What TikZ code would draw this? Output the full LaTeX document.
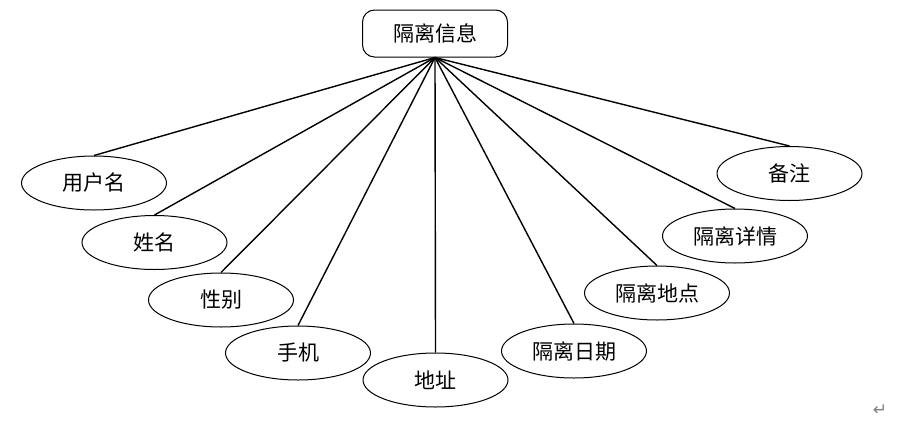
\documentclass[tikz,border=0pt]{standalone}
\usepackage{fontspec}
\setmainfont{Noto Sans CJK SC}
\newfontfamily\symfont{DejaVu Sans}
\usetikzlibrary{shapes.geometric}

\begin{document}
\begin{tikzpicture}[x=1pt,y=-1pt,
        attr/.style={draw=black,ellipse,line width=1pt,minimum width=145pt,minimum height=54pt,inner sep=0pt,font=\fontsize{21}{21}\selectfont}]
        \useasboundingbox (0,0) rectangle (899,423);

        \node[draw=black,rounded corners=12pt,line width=1pt,minimum width=145pt,minimum height=47pt,font=\fontsize{21}{21}\selectfont] (info) at (435,33.5) {隔离信息} ;

        \node[attr] (user) at (94,183) {用户名} ;
        \node[attr] (name) at (154.5,242.5) {姓名} ;
        \node[attr] (sex) at (221,300) {性别} ;
        \node[attr] (phone) at (298,353) {手机} ;
        \node[attr] (addr) at (435.5,380) {地址} ;
        \node[attr] (date) at (574,351) {隔离日期} ;
        \node[attr] (place) at (657,293) {隔离地点} ;
        \node[attr] (detail) at (735,236) {隔离详情} ;
        \node[attr] (note) at (789.5,173.5) {备注} ;

        \foreach \n in {user,name,sex,phone,addr,date,place,detail,note}
            \draw[line width=1.4pt] (info.south) -- (\n.north);

        \node[text=gray,font=\symfont\fontsize{17}{17}\selectfont] (mark) at (880,410) {↵} ;

    \end{tikzpicture}
\end{document}
